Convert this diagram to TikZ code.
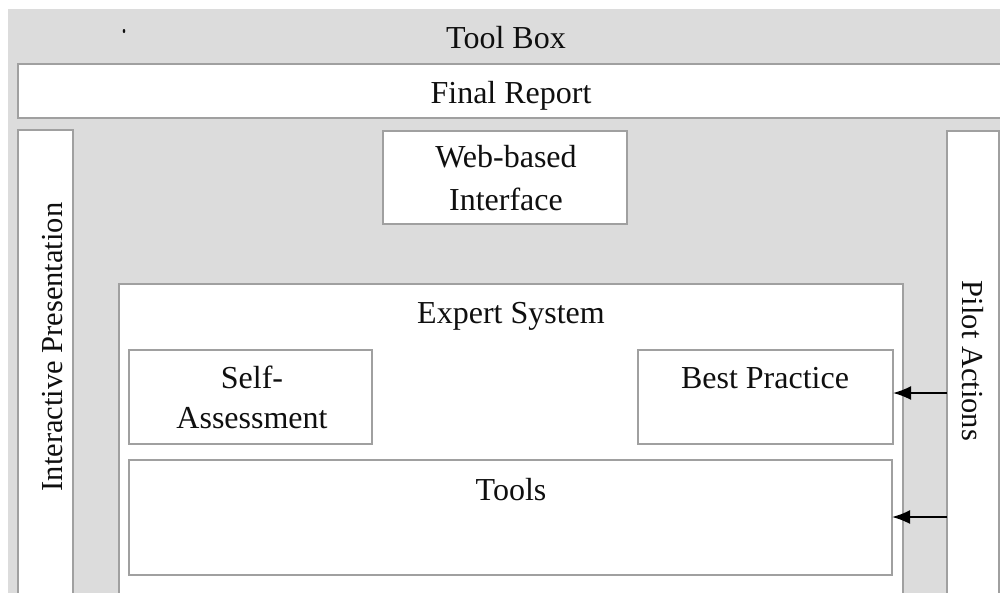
\documentclass[tikz,border=0pt]{standalone}
\usepackage{fontspec}
\setmainfont{Liberation Serif}
\usetikzlibrary{arrows.meta}
\definecolor{bggray}{RGB}{220,220,220}
\definecolor{edgegray}{RGB}{160,160,160}
\definecolor{ink}{RGB}{15,15,15}
\begin{document}
\begin{tikzpicture}[x=1pt,y=-1pt,
  box/.style={draw=edgegray,line width=1.8pt,fill=white,inner sep=0pt,outer sep=0pt,anchor=north west},
  lbl/.style={font=\fontsize{32}{40}\selectfont,text=ink,inner sep=0pt,anchor=base},
  vlbl/.style={font=\fontsize{30.5}{38}\selectfont,text=ink,inner sep=0pt},
  arr/.style={-{Latex[length=18pt,width=14pt]},line width=1.8pt,black}]
\useasboundingbox (0,0) rectangle (1000,592);
\begin{scope}
\clip (0,0) rectangle (1000,592);
% outer tool box
\node[fill=bggray,inner sep=0pt,outer sep=0pt,anchor=north west,minimum width=1010pt,minimum height=600pt] (toolbox) at (8,9) {};
\node[lbl] (toolboxtxt) at (506,48) {Tool Box};
\fill[ink] (124,31) ellipse (1.3pt and 2pt);
% final report
\node[box,minimum width=1000pt,minimum height=54pt] (final) at (18,64) {};
\node[lbl] (finaltxt) at (511,103) {Final Report};
% interactive presentation
\node[box,minimum width=55pt,minimum height=480pt] (inter) at (18,130) {};
\node[vlbl,rotate=90,anchor=base] (intertxt) at (62,347) {Interactive Presentation};
% pilot actions
\node[box,minimum width=52pt,minimum height=480pt] (pilot) at (947,131) {};
\node[vlbl,rotate=-90,anchor=base] (pilottxt) at (962,361) {Pilot Actions};
% web-based interface
\node[box,minimum width=244pt,minimum height=93pt] (web) at (383,131) {};
\node[lbl] (webtxt1) at (506,167) {Web-based};
\node[lbl] (webtxt2) at (506,210) {Interface};
% expert system
\node[box,minimum width=784pt,minimum height=330pt] (expert) at (119,284) {};
\node[lbl] (experttxt) at (511,323) {Expert System};
% self-assessment
\node[box,minimum width=243pt,minimum height=94pt] (self) at (129,350) {};
\node[lbl] (selftxt1) at (252,388) {Self-};
\node[lbl] (selftxt2) at (252,428) {Assessment};
% best practice
\node[box,minimum width=255pt,minimum height=94pt] (best) at (638,350) {};
\node[lbl] (besttxt) at (765,388) {Best Practice};
% tools
\node[box,minimum width=763pt,minimum height=115pt] (tools) at (129,460) {};
\node[lbl] (toolstxt) at (511,500) {Tools};
% arrows
\coordinate (a1) at (pilot.west |- 0,393);
\coordinate (a2) at (pilot.west |- 0,517);
\draw[arr] (a1) -- (best.east |- a1);
\draw[arr] (a2) -- (tools.east |- a2);
\end{scope}
\end{tikzpicture}
\end{document}
